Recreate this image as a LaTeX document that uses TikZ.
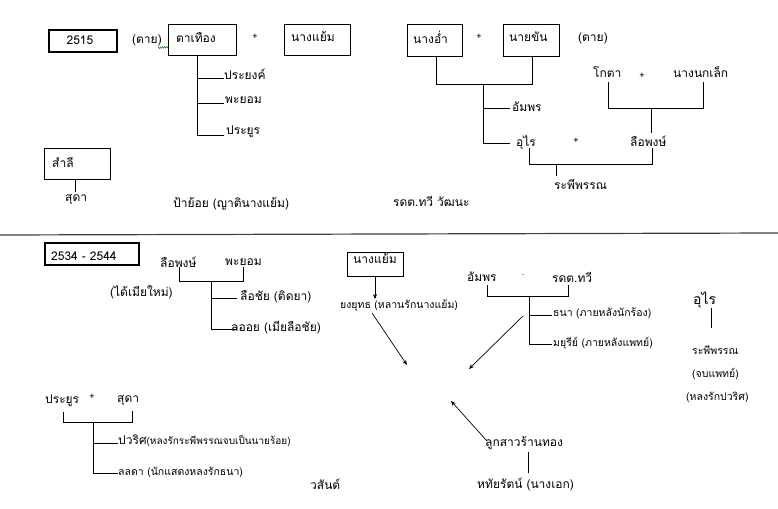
\documentclass[tikz,border=0pt]{standalone}
\usepackage{fontspec}
\newfontfamily\thaifont[Script=Thai]{Loma}
\usetikzlibrary{arrows.meta,decorations.pathmorphing}
\begin{document}
\begin{tikzpicture}[x=1pt,y=-1pt,
  every node/.style={font=\thaifont\fontsize{12}{14}\selectfont, inner sep=0pt},
  lbl/.style={anchor=west},
  sm/.style={anchor=west,font=\thaifont\fontsize{10.5}{12}\selectfont},
  big/.style={anchor=west,font=\thaifont\fontsize{14}{16}\selectfont},
  plus/.style={font=\thaifont\fontsize{9}{10}\selectfont},
  pbox/.style={draw, line width=0.8pt, anchor=north west},
  ybox/.style={draw, line width=1.8pt, anchor=north west},
  ln/.style={line width=0.8pt},
  arr/.style={line width=0.7pt,-{Stealth[length=5pt,width=4pt]}},
]
\fill[white] (0,0) rectangle (778,508);
\useasboundingbox (0,0) rectangle (778,508);

% ---------------- top section ----------------
\node[ybox, minimum width=68pt, minimum height=22pt] (y1) at (48,29) {};
\node (y1t) at (80,40) {2515};
\node[lbl] (dead1) at (132,40) {(ตาย)};
\draw[green!50!black, line width=0.4pt, decorate, decoration={zigzag, amplitude=0.8pt, segment length=2pt}] (158,48) -- (168,47);

\node[pbox, minimum width=68pt, minimum height=31pt] (tt) at (168,24) {};
\node[lbl] (ttt) at (176,37) {ตาเทือง};
\node[plus] (p1) at (255,37) {+};
\node[pbox, minimum width=66pt, minimum height=31pt] (ny) at (284,24) {};
\node[lbl] (nyt) at (291,37) {นางแย้ม};

\coordinate (tt1) at (197,78);
\coordinate (tt2) at (197,103);
\coordinate (tt3) at (197,135);
\draw[ln] (tt.south -| tt3) -- (tt3) -- (224,135);
\draw[ln] (tt1) -- (224,78);
\draw[ln] (tt2) -- (224,103);
\node[lbl] (pyk) at (224,74) {ประยงค์};
\node[lbl] (pyo) at (225,100) {พะยอม};
\node[lbl] (pyu) at (226,132) {ประยูร};

\node[pbox, minimum width=66pt, minimum height=31pt] (sl) at (44,148) {};
\node[lbl] (slt) at (52,162) {สำลี};
\node[lbl] (sd) at (65,200) {สุดา};
\draw[ln] (sl.south -| 75,0) -- (75,192);
\node[lbl] (py) at (173,204) {ป้าย้อย (ญาตินางแย้ม)};

\node[pbox, minimum width=55pt, minimum height=32pt] (na) at (407,24) {};
\node[lbl] (nat) at (413,37) {นางอ่ำ};
\node[plus] (p2) at (479,37) {+};
\node[pbox, minimum width=56pt, minimum height=32pt] (nk) at (503,24) {};
\node[lbl] (nkt) at (509,37) {นายขัน};
\node[lbl] (dead2) at (578,38) {(ตาย)};
\coordinate (j1) at (483,84);
\draw[ln] (na.south -| 436,0) -- (436,84) -- (532,84) -- (nk.south -| 532,0);
\draw[ln] (j1) -- (483,143) -- (510,143);
\draw[ln] (483,108) -- (510,108);
\node[lbl] (ap) at (512,107) {อัมพร};
\node[lbl] (ur) at (516,143) {อุไร};
\node[plus] (p3) at (576,141) {+};
\node[lbl] (lp) at (630,141) {ลือพงษ์};
\node[lbl] (kt) at (593,72) {โกตา};
\node[plus] (p4) at (642,76) {+};
\node[lbl] (nn) at (673,72) {นางนกเล็ก};
\draw[ln] (608,82) -- (608,108) -- (703,108) -- (703,82);
\draw[ln] (651,108) -- (651,133);
\draw[ln] (529,148) -- (529,164) -- (652,164) -- (652,148);
\draw[ln] (556,164) -- (556,176);
\node[lbl] (rp) at (554,184) {ระพีพรรณ};
\node[lbl] (tw) at (393,201) {รดต.ทวี วัฒนะ};

% separator
\draw[line width=1.2pt, black!75] (0,235) -- (778,233);

% ---------------- bottom section ----------------
\node[ybox, minimum width=94pt, minimum height=22pt] (y2) at (44,242) {};
\node[lbl] (y2t) at (51,256) {2534 - 2544};
\node[lbl] (lp2) at (160,262) {ลือพงษ์};
\node[lbl] (pyo2) at (225,262) {พะยอม};
\draw[ln] (179,267) -- (179,281) -- (243,281) -- (243,267);
\draw[ln] (211,281) -- (211,329) -- (237,329);
\draw[ln] (211,298) -- (237,298);
\node[lbl] (nw) at (110,292) {(ได้เมียใหม่)};
\node[lbl] (lc) at (240,297) {ลือชัย (ติดยา)};
\node[lbl] (lo) at (231,328) {ลออย (เมียลือชัย)};

\node[pbox, minimum width=56pt, minimum height=24pt] (nb) at (347,252) {};
\node[lbl] (nbt) at (353,259) {นางแย้ม};
\node[sm] (yy) at (340,305) {ยงยุทธ (หลานรักนางแย้ม)};
\draw[arr] (nb.south -| 375,0) -- (yy.north -| 375,0);
\coordinate (c1) at (407,365);
\draw[arr] (372,313) -- (c1);

\node[lbl] (ap2) at (467,277) {อัมพร};
\node[plus] (dot) at (523,275) {.};
\node[lbl] (tw2) at (552,277) {รดต.ทวี};
\draw[ln] (487,285) -- (487,296) -- (568,296) -- (568,285);
\draw[ln] (529,296) -- (529,344) -- (552,344);
\draw[ln] (529,315) -- (552,315);
\node[sm] (tn) at (553,313) {ธนา (ภายหลังนักร้อง)};
\node[sm] (my) at (553,343) {มยุรีย์ (ภายหลังแพทย์)};
\coordinate (c2) at (469,369);
\draw[arr] (523,316) -- (c2);

\node[big] (ur2) at (693,300) {อุไร};
\draw[ln] (711,308) -- (711,328);
\node[sm] (rp2) at (692,350) {ระพีพรรณ};
\node[sm] (jb) at (692,374) {(จบแพทย์)};
\node[sm] (lr) at (686,397) {(หลงรักปวริศ)};

\node[lbl] (pyu2) at (45,401) {ประยูร};
\node[plus] (p5) at (92,397) {+};
\node[lbl] (sd2) at (117,401) {สุดา};
\draw[ln] (63,412) -- (63,422) -- (132,422) -- (132,411);
\draw[ln] (93,422) -- (93,473) -- (118,473);
\draw[ln] (93,443) -- (118,443);
\node[lbl] (pw) at (118,441) {ปวริศ{\fontsize{10}{12}\selectfont(หลงรักระพีพรรณจบเป็นนายร้อย)}};
\node[sm] (ld) at (118,472) {ลลดา (นักแสดงหลงรักธนา)};
\node[lbl] (ws) at (310,484) {วสันต์};

\node[lbl] (lk) at (485,443) {ลูกสาวร้านทอง};
\node[lbl] (ht) at (477,484) {หทัยรัตน์ (นางเอก)};
\draw[ln] (528,452) -- (528,473);
\coordinate (c3) at (451,401);
\draw[arr] (487,441) -- (c3);
\end{tikzpicture}
\end{document}
